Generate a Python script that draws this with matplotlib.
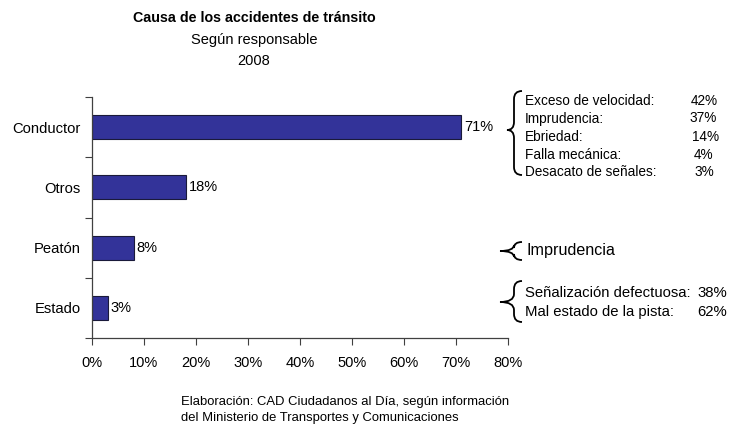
import numpy as np
import matplotlib.pyplot as plt
from matplotlib.path import Path
from matplotlib.patches import PathPatch

plt.rcParams['font.family'] = ['Liberation Sans', 'DejaVu Sans']

categories = ["Conductor", "Otros", "Peatón", "Estado"]
values = [71, 18, 8, 3]
x_ticks = [0, 10, 20, 30, 40, 50, 60, 70, 80]

conductor_causes = ["Exceso de velocidad:", "Imprudencia:", "Ebriedad:", "Falla mecánica:", "Desacato de señales:"]
conductor_pcts = ["42%", "37%", "14%", "4%", "3%"]
peaton_causes = ["Imprudencia"]
estado_causes = ["Señalización defectuosa:", "Mal estado de la pista:"]
estado_pcts = ["38%", "62%"]

W, H = 734, 429
fig = plt.figure(figsize=(W / 100, H / 100), dpi=100)

def fx(px):
	return px / W

def fy(py):
	return 1 - py / H

ax = fig.add_axes([fx(92), fy(338), fx(508) - fx(92), fy(97) - fy(338)])

ypos = np.arange(len(categories))
ax.barh(ypos, values, height=0.4, color='#333399', edgecolor='#1a1a3a', linewidth=0.8)
ax.set_ylim(len(categories) - 0.5, -0.5)
ax.set_xlim(0, 80)

for y, v in zip(ypos, values):
	ax.text(v + 0.6, y, f"{v}%", va='center', ha='left', fontsize=10.5)

ax.set_xticks(x_ticks)
ax.set_xticklabels([f"{t}%" for t in x_ticks], fontsize=10.5)
ax.set_yticks(np.arange(len(categories) + 1) - 0.5)
ax.set_yticklabels([])
ax.set_yticks(ypos, minor=True)
ax.set_yticklabels(categories, minor=True, fontsize=10.6)
ax.tick_params(axis='y', which='major', length=5, direction='out', color='#404040')
ax.tick_params(axis='y', which='minor', length=0, pad=8)
ax.tick_params(axis='x', length=5, direction='out', color='#404040', pad=8)
for s in ['top', 'right']:
	ax.spines[s].set_visible(False)
for s in ['left', 'bottom']:
	ax.spines[s].set_color('#404040')
	ax.spines[s].set_linewidth(0.9)

# titles
fig.text(fx(254), fy(18), "Causa de los accidentes de tránsito", ha='center', va='center',
	fontsize=10.3, fontweight='bold')
fig.text(fx(254), fy(40), "Según responsable", ha='center', va='center', fontsize=10.5)
fig.text(fx(254), fy(61), "2008", ha='center', va='center', fontsize=10.5)

# footer
fig.text(fx(181), fy(402), "Elaboración: CAD Ciudadanos al Día, según información", ha='left', va='center', fontsize=9.4)
fig.text(fx(181), fy(418), "del Ministerio de Transportes y Comunicaciones", ha='left', va='center', fontsize=9.4)

def brace(x_tip, y_tip, x_mid, x_end, y_top, y_bot, r):
	pts = [(x_end, y_top), (x_mid, y_top), (x_mid, y_top + r),
		(x_mid, y_tip - r), (x_mid, y_tip), (x_tip, y_tip),
		(x_mid, y_tip), (x_mid, y_tip + r),
		(x_mid, y_bot - r), (x_mid, y_bot), (x_end, y_bot)]
	codes = [Path.MOVETO, Path.CURVE3, Path.CURVE3,
		Path.LINETO, Path.CURVE3, Path.CURVE3,
		Path.CURVE3, Path.CURVE3,
		Path.LINETO, Path.CURVE3, Path.CURVE3]
	verts = [(fx(a), fy(b)) for a, b in pts]
	fig.patches.append(PathPatch(Path(verts, codes), transform=fig.transFigure,
		facecolor='none', edgecolor='black', linewidth=1.3))

brace(507, 130, 514, 522, 91, 175, 8)
brace(500, 251, 514, 522, 242, 260, 6)
brace(500, 302, 514, 522, 281, 322, 8)

rows1 = [101, 118.5, 137, 154.5, 171.5]
pct_right = [718, 717, 719, 713, 714]
for lab, pct, y, xr in zip(conductor_causes, conductor_pcts, rows1, pct_right):
	fig.text(fx(525), fy(y), lab, ha='left', va='center', fontsize=9.8)
	fig.text(fx(xr), fy(y), pct, ha='right', va='center', fontsize=9.8)

fig.text(fx(527), fy(251), peaton_causes[0], ha='left', va='center', fontsize=11.6)

rows3 = [293, 312]
for lab, pct, y in zip(estado_causes, estado_pcts, rows3):
	fig.text(fx(525), fy(y), lab, ha='left', va='center', fontsize=10.7)
	fig.text(fx(727), fy(y), pct, ha='right', va='center', fontsize=10.7)

fig.savefig('out.png', dpi=100)
